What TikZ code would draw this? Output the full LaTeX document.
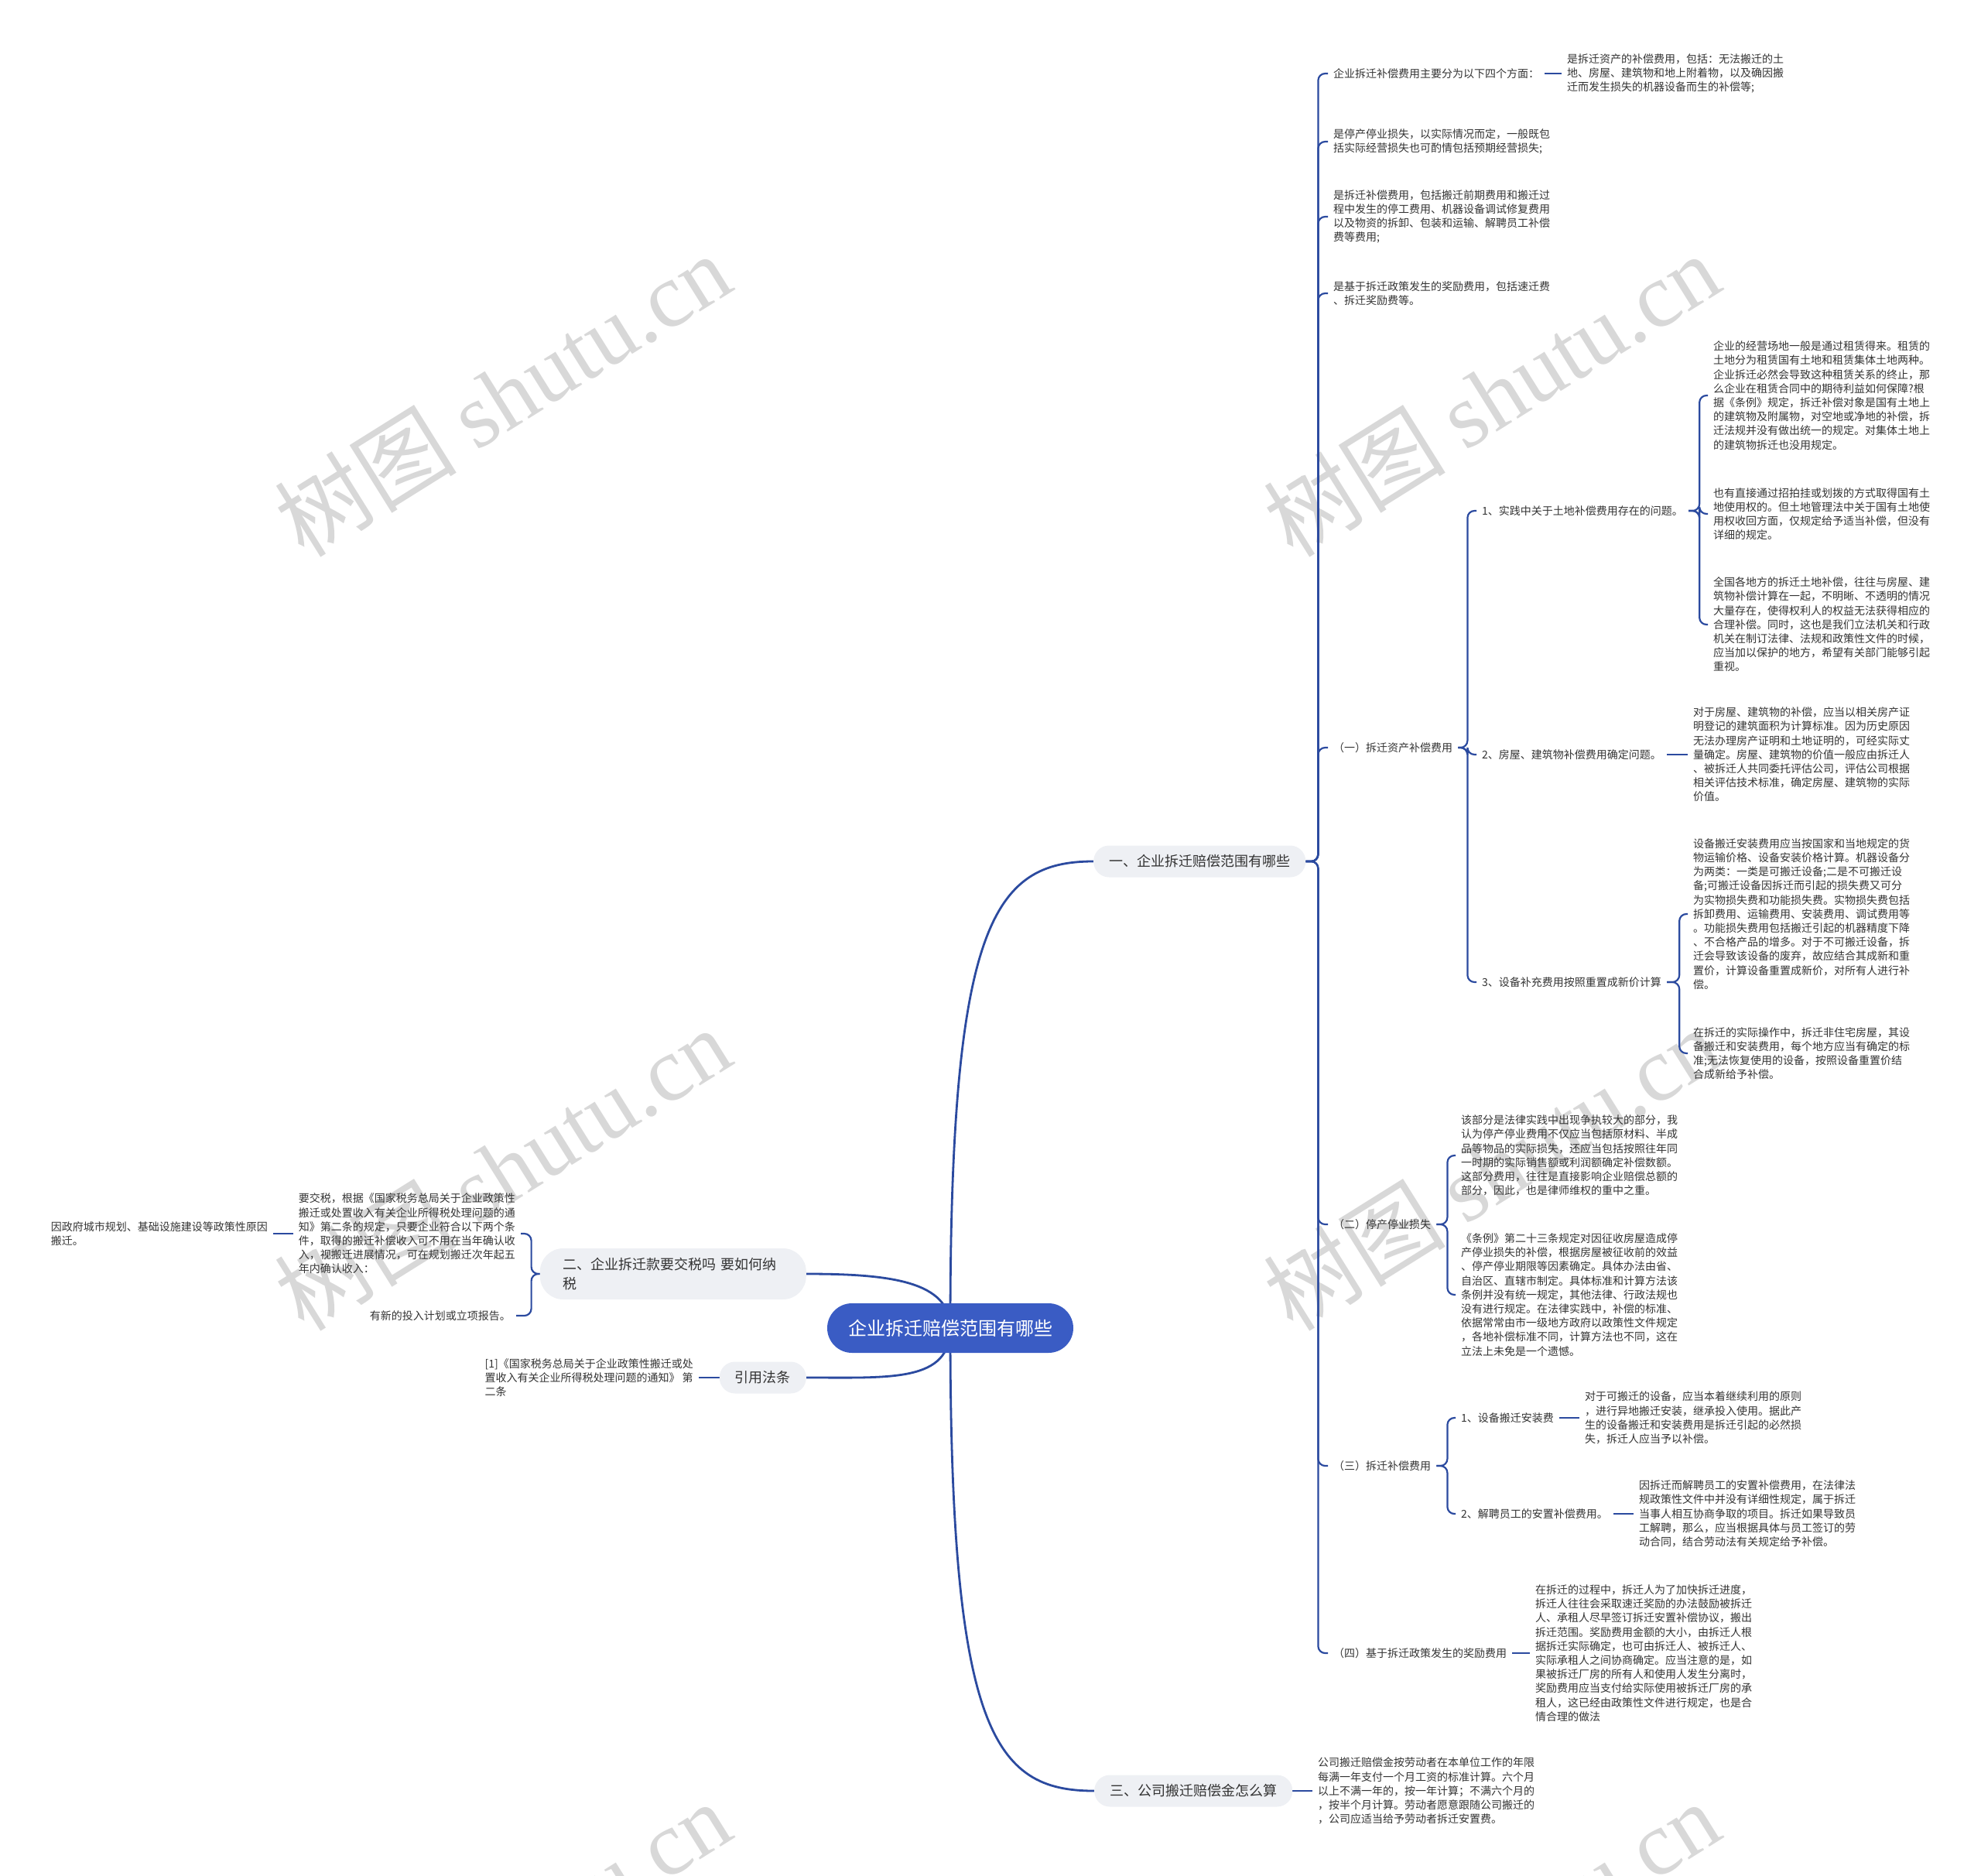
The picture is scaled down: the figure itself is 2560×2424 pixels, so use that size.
\documentclass[tikz,border=0pt]{standalone}
\usepackage{fontspec}
\setmainfont{Noto Sans CJK SC}
\newfontfamily\wmlatin{Liberation Serif}
\usetikzlibrary{calc}
\definecolor{conn}{HTML}{2B4A9F}
\definecolor{rootfill}{HTML}{3A5CC4}
\definecolor{branchfill}{HTML}{EEF0F4}
\definecolor{txt}{HTML}{333333}
\definecolor{wm}{HTML}{D8D8D8}
\pgfdeclarelayer{bg}
\pgfsetlayers{bg,main}
\tikzset{
  leaf/.style={inner xsep=7pt, inner ysep=0pt, align=left, text=txt, font=\fontsize{14}{18.2}\selectfont},
  branch/.style={fill=branchfill, rounded corners=20pt, minimum height=41pt, inner xsep=20pt, inner ysep=0pt, text=txt, font=\fontsize{18}{25}\selectfont},
  rootnode/.style={fill=rootfill, rounded corners=32pt, minimum width=318pt, minimum height=64pt, text=white, font=\fontsize{24}{28}\selectfont},
  link/.style={draw=conn, line width=2.2pt, rounded corners=9pt},
  trunk/.style={draw=conn, line width=2.8pt},
  wmark/.style={text=wm, rotate=32, font=\fontsize{118}{120}\selectfont}
}
\begin{document}
\begin{tikzpicture}[x=1pt,y=-1pt]
\useasboundingbox (0,0) rectangle (2560,2424);

% root and main branches
\node[rootnode] (root) at (1228,1716) {企业拆迁赔偿范围有哪些};
\node[branch, anchor=west] (b1) at (1413,1113) {一、企业拆迁赔偿范围有哪些};
\node[branch, anchor=west] (b3) at (1414,2314) {三、公司搬迁赔偿金怎么算};
\node[branch, anchor=east, text width=284pt, align=left, rounded corners=30pt, minimum height=66pt, inner xsep=30pt] (b2) at (1042,1646) {二、企业拆迁款要交税吗 要如何纳\\税};
\node[branch, anchor=east] (b4) at (1042,1780) {引用法条};

% right side, level 2
\node[leaf, anchor=west] (r1) at (1716,95) {企业拆迁补偿费用主要分为以下四个方面：};
\node[leaf, anchor=west] (r1a) at (2018,95) {是拆迁资产的补偿费用，包括：无法搬迁的土\\地、房屋、建筑物和地上附着物，以及确因搬\\迁而发生损失的机器设备而生的补偿等;};
\node[leaf, anchor=west] (r2) at (1716,183) {是停产停业损失，以实际情况而定，一般既包\\括实际经营损失也可酌情包括预期经营损失;};
\node[leaf, anchor=west] (r3) at (1716,280) {是拆迁补偿费用，包括搬迁前期费用和搬迁过\\程中发生的停工费用、机器设备调试修复费用\\以及物资的拆卸、包装和运输、解聘员工补偿\\费等费用;};
\node[leaf, anchor=west] (r4) at (1716,379) {是基于拆迁政策发生的奖励费用，包括速迁费\\、拆迁奖励费等。};

\node[leaf, anchor=west] (r5) at (1716,966) {（一）拆迁资产补偿费用};
\node[leaf, anchor=west] (r5a) at (1908,660) {1、实践中关于土地补偿费用存在的问题。};
\node[leaf, anchor=west] (r5a1) at (2207,511) {企业的经营场地一般是通过租赁得来。租赁的\\土地分为租赁国有土地和租赁集体土地两种。\\企业拆迁必然会导致这种租赁关系的终止，那\\么企业在租赁合同中的期待利益如何保障?根\\据《条例》规定，拆迁补偿对象是国有土地上\\的建筑物及附属物，对空地或净地的补偿，拆\\迁法规并没有做出统一的规定。对集体土地上\\的建筑物拆迁也没用规定。};
\node[leaf, anchor=west] (r5a2) at (2207,664) {也有直接通过招拍挂或划拨的方式取得国有土\\地使用权的。但土地管理法中关于国有土地使\\用权收回方面，仅规定给予适当补偿，但没有\\详细的规定。};
\node[leaf, anchor=west] (r5a3) at (2207,807) {全国各地方的拆迁土地补偿，往往与房屋、建\\筑物补偿计算在一起，不明晰、不透明的情况\\大量存在，使得权利人的权益无法获得相应的\\合理补偿。同时，这也是我们立法机关和行政\\机关在制订法律、法规和政策性文件的时候，\\应当加以保护的地方，希望有关部门能够引起\\重视。};
\node[leaf, anchor=west] (r5b) at (1908,975) {2、房屋、建筑物补偿费用确定问题。};
\node[leaf, anchor=west] (r5b1) at (2181,975) {对于房屋、建筑物的补偿，应当以相关房产证\\明登记的建筑面积为计算标准。因为历史原因\\无法办理房产证明和土地证明的，可经实际丈\\量确定。房屋、建筑物的价值一般应由拆迁人\\、被拆迁人共同委托评估公司，评估公司根据\\相关评估技术标准，确定房屋、建筑物的实际\\价值。};
\node[leaf, anchor=west] (r5c) at (1908,1269) {3、设备补充费用按照重置成新价计算};
\node[leaf, anchor=west] (r5c1) at (2181,1181) {设备搬迁安装费用应当按国家和当地规定的货\\物运输价格、设备安装价格计算。机器设备分\\为两类：一类是可搬迁设备;二是不可搬迁设\\备;可搬迁设备因拆迁而引起的损失费又可分\\为实物损失费和功能损失费。实物损失费包括\\拆卸费用、运输费用、安装费用、调试费用等\\。功能损失费用包括搬迁引起的机器精度下降\\、不合格产品的增多。对于不可搬迁设备，拆\\迁会导致该设备的废弃，故应结合其成新和重\\置价，计算设备重置成新价，对所有人进行补\\偿。};
\node[leaf, anchor=west] (r5c2) at (2181,1361) {在拆迁的实际操作中，拆迁非住宅房屋，其设\\备搬迁和安装费用，每个地方应当有确定的标\\准;无法恢复使用的设备，按照设备重置价结\\合成新给予补偿。};

\node[leaf, anchor=west] (r6) at (1716,1582) {（二）停产停业损失};
\node[leaf, anchor=west] (r6a) at (1881,1493) {该部分是法律实践中出现争执较大的部分，我\\认为停产停业费用不仅应当包括原材料、半成\\品等物品的实际损失，还应当包括按照往年同\\一时期的实际销售额或利润额确定补偿数额。\\这部分费用，往往是直接影响企业赔偿总额的\\部分，因此，也是律师维权的重中之重。};
\node[leaf, anchor=west] (r6b) at (1881,1673) {《条例》第二十三条规定对因征收房屋造成停\\产停业损失的补偿，根据房屋被征收前的效益\\、停产停业期限等因素确定。具体办法由省、\\自治区、直辖市制定。具体标准和计算方法该\\条例并没有统一规定，其他法律、行政法规也\\没有进行规定。在法律实践中，补偿的标准、\\依据常常由市一级地方政府以政策性文件规定\\，各地补偿标准不同，计算方法也不同，这在\\立法上未免是一个遗憾。};

\node[leaf, anchor=west] (r7) at (1716,1894) {（三）拆迁补偿费用};
\node[leaf, anchor=west] (r7a) at (1881,1832) {1、设备搬迁安装费};
\node[leaf, anchor=west] (r7a1) at (2041,1832) {对于可搬迁的设备，应当本着继续利用的原则\\，进行异地搬迁安装，继承投入使用。据此产\\生的设备搬迁和安装费用是拆迁引起的必然损\\失，拆迁人应当予以补偿。};
\node[leaf, anchor=west] (r7b) at (1881,1956) {2、解聘员工的安置补偿费用。};
\node[leaf, anchor=west] (r7b1) at (2111,1956) {因拆迁而解聘员工的安置补偿费用，在法律法\\规政策性文件中并没有详细性规定，属于拆迁\\当事人相互协商争取的项目。拆迁如果导致员\\工解聘，那么，应当根据具体与员工签订的劳\\动合同，结合劳动法有关规定给予补偿。};

\node[leaf, anchor=west] (r8) at (1716,2136) {（四）基于拆迁政策发生的奖励费用};
\node[leaf, anchor=west] (r8a) at (1977,2136) {在拆迁的过程中，拆迁人为了加快拆迁进度，\\拆迁人往往会采取速迁奖励的办法鼓励被拆迁\\人、承租人尽早签订拆迁安置补偿协议，搬出\\拆迁范围。奖励费用金额的大小，由拆迁人根\\据拆迁实际确定，也可由拆迁人、被拆迁人、\\实际承租人之间协商确定。应当注意的是，如\\果被拆迁厂房的所有人和使用人发生分离时，\\奖励费用应当支付给实际使用被拆迁厂房的承\\租人，这已经由政策性文件进行规定，也是合\\情合理的做法};

\node[leaf, anchor=west] (b3a) at (1696,2314) {公司搬迁赔偿金按劳动者在本单位工作的年限\\每满一年支付一个月工资的标准计算。六个月\\以上不满一年的，按一年计算；不满六个月的\\，按半个月计算。劳动者愿意跟随公司搬迁的\\，公司应适当给予劳动者拆迁安置费。};

% left side
\node[leaf, anchor=east] (l1a) at (673,1594) {要交税，根据《国家税务总局关于企业政策性\\搬迁或处置收入有关企业所得税处理问题的通\\知》第二条的规定，只要企业符合以下两个条\\件，取得的搬迁补偿收入可不用在当年确认收\\入，视搬迁进展情况，可在规划搬迁次年起五\\年内确认收入：};
\node[leaf, anchor=east] (l1a1) at (353,1594) {因政府城市规划、基础设施建设等政策性原因\\搬迁。};
\node[leaf, anchor=east] (l1b) at (667,1700) {有新的投入计划或立项报告。};
\node[leaf, anchor=east] (l2a) at (903,1780) {[1]《国家税务总局关于企业政策性搬迁或处\\置收入有关企业所得税处理问题的通知》 第\\二条};

\begin{pgfonlayer}{bg}
% watermarks
\node[wmark] (wm1) at (649,510) {树图 {\wmlatin shutu.cn}};
\node[wmark] (wm2) at (1927,510) {树图 {\wmlatin shutu.cn}};
\node[wmark] (wm3) at (649,1510) {树图 {\wmlatin shutu.cn}};
\node[wmark] (wm4) at (1927,1510) {树图 {\wmlatin shutu.cn}};
\node[wmark] (wm5) at (649,2510) {树图 {\wmlatin shutu.cn}};
\node[wmark] (wm6) at (1927,2510) {树图 {\wmlatin shutu.cn}};

% trunk curves
\draw[trunk] (root.center) .. controls +(0,-520) and +(-130,0) .. (b1.west);
\draw[trunk] (root.center) .. controls +(0,520) and +(-130,0) .. (b3.west);
\draw[trunk] (root.center) .. controls +(0,-60) and +(110,0) .. (b2.east);
\draw[trunk] (root.center) .. controls +(0,70) and +(110,0) .. (b4.east);

% right brackets
\foreach \c in {r1,r2,r3,r4,r5,r6,r7,r8}
  \draw[link] (b1.east) -- ++(16,0) |- (\c.west);
\draw[link] (r1.east) -- (r1a.west);
\foreach \c in {r5a,r5b,r5c}
  \draw[link] (r5.east) -- ++(12,0) |- (\c.west);
\foreach \c in {r5a1,r5a2,r5a3}
  \draw[link] (r5a.east) -- ++(14,0) |- (\c.west);
\draw[link] (r5b.east) -- (r5b1.west);
\foreach \c in {r5c1,r5c2}
  \draw[link] (r5c.east) -- ++(16,0) |- (\c.west);
\foreach \c in {r6a,r6b}
  \draw[link] (r6.east) -- ++(14,0) |- (\c.west);
\foreach \c in {r7a,r7b}
  \draw[link] (r7.east) -- ++(14,0) |- (\c.west);
\draw[link] (r7a.east) -- (r7a1.west);
\draw[link] (r7b.east) -- (r7b1.west);
\draw[link] (r8.east) -- (r8a.west);
\draw[link] (b3.east) -- (b3a.west);

% left brackets
\foreach \c in {l1a,l1b}
  \draw[link] (b2.west) -- ++(-11,0) |- (\c.east);
\draw[link] (l1a.west) -- (l1a1.east);
\draw[link] (b4.west) -- (l2a.east);
\end{pgfonlayer}
\end{tikzpicture}
\end{document}
